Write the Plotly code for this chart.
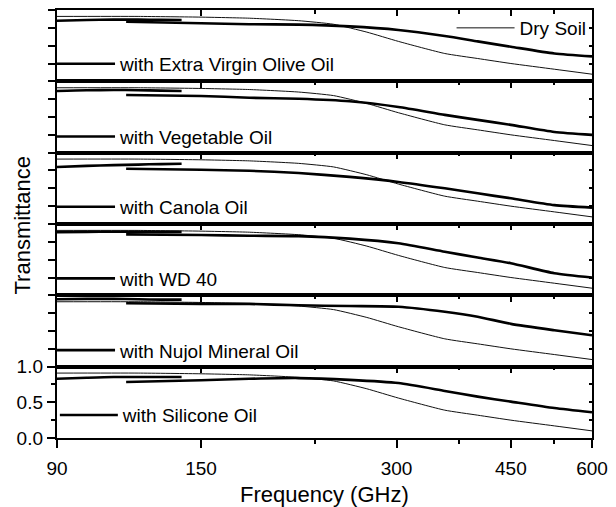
import math
import plotly.graph_objects as go

# ---------------- data ----------------
FREQ_A = [90, 100, 110, 120, 130, 140]                 # low-band measurement (GHz)
FREQ_B = [115, 150, 178, 212, 254, 302, 356, 400, 450, 525, 600]  # high-band measurement
FREQ_DRY = [90, 120, 150, 178, 212, 240, 270, 302, 356, 400, 450, 525, 600]
DRY_SOIL = [0.91, 0.91, 0.90, 0.885, 0.85, 0.80, 0.69, 0.56, 0.39, 0.32, 0.25, 0.17, 0.10]

OIL_NAMES = ["with Extra Virgin Olive Oil", "with Vegetable Oil", "with Canola Oil",
             "with WD 40", "with Nujol Mineral Oil", "with Silicone Oil"]

EVOO_A = [0.85, 0.86, 0.865, 0.865, 0.862, 0.86]
EVOO_B = [0.835, 0.815, 0.80, 0.795, 0.77, 0.72, 0.635, 0.56, 0.485, 0.39, 0.35]
VEG_A = [0.864, 0.875, 0.878, 0.876, 0.87, 0.864]
VEG_B = [0.808, 0.795, 0.77, 0.755, 0.72, 0.64, 0.53, 0.46, 0.39, 0.29, 0.25]
CANOLA_A = [0.80, 0.815, 0.825, 0.833, 0.84, 0.845]
CANOLA_B = [0.775, 0.76, 0.746, 0.715, 0.66, 0.59, 0.50, 0.43, 0.36, 0.265, 0.23]
WD40_A = [0.885, 0.89, 0.892, 0.892, 0.89, 0.89]
WD40_B = [0.855, 0.845, 0.835, 0.83, 0.795, 0.73, 0.61, 0.53, 0.45, 0.31, 0.25]
NUJOL_A = [0.945, 0.95, 0.95, 0.945, 0.94, 0.94]
NUJOL_B = [0.89, 0.88, 0.88, 0.86, 0.85, 0.84, 0.77, 0.70, 0.60, 0.51, 0.44]
SILICONE_A = [0.83, 0.845, 0.855, 0.855, 0.855, 0.855]
SILICONE_B = [0.785, 0.81, 0.83, 0.84, 0.815, 0.77, 0.66, 0.58, 0.51, 0.42, 0.36]

OIL_A = [EVOO_A, VEG_A, CANOLA_A, WD40_A, NUJOL_A, SILICONE_A]
OIL_B = [EVOO_B, VEG_B, CANOLA_B, WD40_B, NUJOL_B, SILICONE_B]

X_TICKS = [90, 150, 300, 450, 600]
X_MINOR = [225, 375, 525]
Y_TICKS_BOTTOM = [0, 0.5, 1.0]
Y_TICKTEXT = ["0.0", "0.5", "1.0"]
Y_MINOR = [0.25, 0.75]

# ---------------- figure ----------------
FONT = "Liberation Sans, Arial, Helvetica, sans-serif"
XR = [math.log10(90), math.log10(600)]
N = 6
fig = go.Figure()
layout = {}
LEG_X = [-0.0093, -0.0093, -0.0093, -0.0093, -0.0093, -0.004]
LEG_OFF = [0.245, 0.225, 0.24, 0.235, 0.23, 0.32]

for i in range(N):
    r = i + 1
    xa = "x" if r == 1 else f"x{r}"
    ya = "y" if r == 1 else f"y{r}"
    dom = [1 - r / N, 1 - (r - 1) / N]

    fig.add_trace(go.Scatter(x=FREQ_DRY, y=DRY_SOIL, xaxis=xa, yaxis=ya, mode="lines",
                             line=dict(color="#111", width=1, shape="spline", smoothing=0.5),
                             name="Dry Soil", showlegend=(r == 1), legend="legend",
                             hoverinfo="skip"))
    fig.add_trace(go.Scatter(x=FREQ_A, y=OIL_A[i], xaxis=xa, yaxis=ya, mode="lines",
                             line=dict(color="black", width=2.6, shape="spline", smoothing=0.8),
                             showlegend=False, hoverinfo="skip"))
    fig.add_trace(go.Scatter(x=FREQ_B, y=OIL_B[i], xaxis=xa, yaxis=ya, mode="lines",
                             line=dict(color="black", width=2.6, shape="spline", smoothing=0.6),
                             name=OIL_NAMES[i], showlegend=True, legend=f"legend{r + 1}",
                             hoverinfo="skip"))

    xkey = "xaxis" if r == 1 else f"xaxis{r}"
    ykey = "yaxis" if r == 1 else f"yaxis{r}"
    if r < N:
        layout[xkey] = dict(type="log", range=XR, domain=[0, 1], anchor=ya, side="top",
                            showline=True, linecolor="black", linewidth=2.4, mirror=True,
                            ticks="inside", tickvals=X_TICKS[1:-1], ticklen=6, tickwidth=2,
                            tickcolor="black", showticklabels=False, showgrid=False,
                            zeroline=False,
                            minor=dict(tickvals=X_MINOR, ticks="inside", ticklen=3.5,
                                       tickwidth=2, tickcolor="black", showgrid=False))
        layout[ykey] = dict(range=[0, 1], domain=dom, anchor=xa, showline=True,
                            linecolor="black", linewidth=2.4, mirror=True, ticks="outside",
                            tickvals=[0, 0.25, 0.5, 0.75, 1.0], ticklen=7, tickwidth=2,
                            tickcolor="black", showticklabels=False, showgrid=False,
                            zeroline=False)
    else:
        layout[xkey] = dict(type="log", range=XR, domain=[0, 1], anchor=ya, side="bottom",
                            showline=True, linecolor="black", linewidth=2.4, mirror=True,
                            ticks="outside", tickvals=X_TICKS, ticktext=[str(v) for v in X_TICKS],
                            ticklen=8, tickwidth=2, tickcolor="black", showgrid=False,
                            zeroline=False, ticklabelstandoff=4, ticklabeloverflow="allow",
                            tickfont=dict(size=19, color="black", family=FONT),
                            minor=dict(tickvals=X_MINOR, ticks="outside", ticklen=4,
                                       tickwidth=2, tickcolor="black", showgrid=False))
        layout[ykey] = dict(range=[0, 1], domain=dom, anchor=xa, showline=True,
                            linecolor="black", linewidth=2.4, mirror=True, ticks="outside",
                            tickvals=Y_TICKS_BOTTOM, ticktext=Y_TICKTEXT, ticklen=8, tickwidth=2,
                            tickcolor="black", showgrid=False, zeroline=False,
                            tickfont=dict(size=19, color="black", family=FONT),
                            minor=dict(tickvals=Y_MINOR, ticks="outside", ticklen=4,
                                       tickwidth=2, tickcolor="black", showgrid=False))
        layout["xaxis7"] = dict(type="log", range=XR, overlaying="x6", anchor="y6", side="top",
                                showline=False, ticks="inside", tickvals=X_TICKS[1:-1],
                                ticklen=6, tickwidth=2, tickcolor="black",
                                showticklabels=False, showgrid=False, zeroline=False,
                                minor=dict(tickvals=X_MINOR, ticks="inside", ticklen=3.5,
                                           tickwidth=2, tickcolor="black", showgrid=False))
        fig.add_trace(go.Scatter(x=[], y=[], xaxis="x7", yaxis="y6", showlegend=False,
                                 hoverinfo="skip"))

    rk = f"yaxis{N + r}"
    layout[rk] = dict(range=[0, 1], overlaying=ya, anchor=xa, side="right", showline=False,
                      ticks="inside", tickvals=[0.25, 0.5, 0.75], ticklen=3, tickwidth=2,
                      tickcolor="black", showticklabels=False, showgrid=False, zeroline=False)
    fig.add_trace(go.Scatter(x=[], y=[], xaxis=xa, yaxis=f"y{N + r}", showlegend=False,
                             hoverinfo="skip"))

    layout[f"legend{r + 1}"] = dict(x=LEG_X[i], y=dom[0] + LEG_OFF[i] / N, xanchor="left",
                                    yanchor="middle", bgcolor="rgba(0,0,0,0)", borderwidth=0,
                                    itemwidth=58,
                                    font=dict(size=19, color="black", family=FONT))

layout["legend"] = dict(x=0.7375, y=1 - 18 / 428, xanchor="left", yanchor="middle",
                        bgcolor="rgba(0,0,0,0)", borderwidth=0, itemwidth=58,
                        font=dict(size=19, color="black", family=FONT))

fig.update_layout(**layout)
# the page body adds an 8px offset, so the figure is placed at (8, 8)
fig.update_layout(
    width=608, height=499,
    margin=dict(l=49, r=24, t=2, b=69, autoexpand=False),
    paper_bgcolor="white", plot_bgcolor="white",
    font=dict(family=FONT, size=19, color="black"),
    annotations=[
        dict(text="Transmittance", x=-0.065, y=0.497, xref="paper", yref="paper",
             textangle=-90, showarrow=False, xanchor="center", yanchor="middle",
             font=dict(size=22, color="black", family=FONT)),
        dict(text="Frequency (GHz)", x=0.5, y=-57 / 428, xref="paper", yref="paper",
             showarrow=False, xanchor="center", yanchor="middle",
             font=dict(size=22, color="black", family=FONT)),
    ],
)

fig.write_html("out.html")
